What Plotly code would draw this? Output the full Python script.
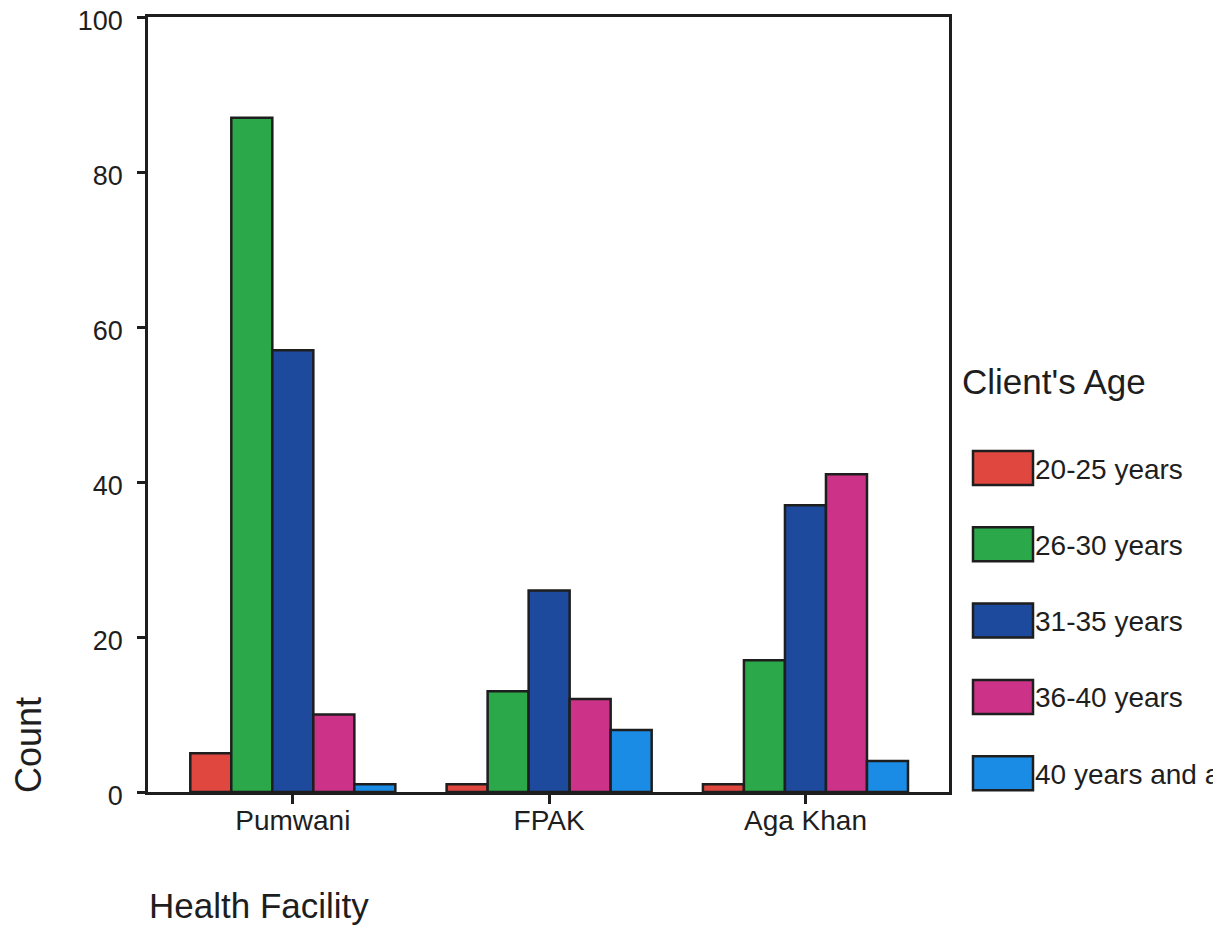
import plotly.graph_objects as go

facilities = ["Pumwani", "FPAK", "Aga Khan"]
age_groups = ["20-25 years", "26-30 years", "31-35 years", "36-40 years", "40 years and above"]
counts_20_25 = [5, 1, 1]
counts_26_30 = [87, 13, 17]
counts_31_35 = [57, 26, 37]
counts_36_40 = [10, 12, 41]
counts_40_up = [1, 8, 4]
series = [counts_20_25, counts_26_30, counts_31_35, counts_36_40, counts_40_up]
colors = ["#E0473F", "#2AA84A", "#1D4A9C", "#CC3388", "#1A8CE6"]
y_ticks = [0, 20, 40, 60, 80, 100]

W, H = 1221, 928
OFF = 8  # page body offset
ML = 148 - OFF
MT = 17 - OFF
PB = 792 - OFF
PR = 949 - OFF
MB = H - PB
MR = W - PR
PW, PH = PR - ML, PB - MT

def px(sx):
    return (sx - OFF - ML) / PW

def py(sy):
    return (PB - (sy - OFF)) / PH

FONT = "Liberation Sans, Arial, sans-serif"
INK = "#1e1e1e"

fig = go.Figure()
xs = list(range(len(facilities)))
for name, vals, col in zip(age_groups, series, colors):
    fig.add_trace(go.Bar(
        x=xs, y=vals, name=name,
        marker=dict(color=col, line=dict(color=INK, width=2.5)),
        showlegend=False,
    ))

shapes = []
annotations = []
annotations.append(dict(text="Client's Age", xref="paper", yref="paper",
                        x=px(960), y=py(381), xanchor="left", yanchor="middle",
                        showarrow=False, font=dict(family=FONT, size=35, color=INK)))
for i, (name, col) in enumerate(zip(age_groups, colors)):
    cy = 468 + i * 76.3
    shapes.append(dict(type="rect", xref="paper", yref="paper",
                       x0=px(973), x1=px(1033), y0=py(cy - 17), y1=py(cy + 17),
                       fillcolor=col, line=dict(color=INK, width=2.5)))
    annotations.append(dict(text=name, xref="paper", yref="paper",
                            x=px(1033), y=py(cy + 1), xanchor="left", yanchor="middle",
                            showarrow=False,
                            font=dict(family=FONT, size=28, color=INK)))
annotations.append(dict(text="Count", xref="paper", yref="paper",
                        x=px(28), y=py(745), xanchor="center", yanchor="middle",
                        textangle=-90, showarrow=False,
                        font=dict(family=FONT, size=36, color=INK)))
annotations.append(dict(text="Health Facility", xref="paper", yref="paper",
                        x=px(147), y=py(906), xanchor="left", yanchor="middle",
                        showarrow=False,
                        font=dict(family=FONT, size=35, color=INK)))

fig.update_layout(
    width=W, height=H,
    margin=dict(l=ML, r=MR, t=MT, b=MB, pad=0, autoexpand=False),
    paper_bgcolor="white", plot_bgcolor="white",
    barmode="group", bargap=0.2, bargroupgap=0,
    shapes=shapes, annotations=annotations,
    font=dict(family=FONT, color=INK),
)
fig.update_xaxes(
    range=[-0.565, 2.56], tickvals=xs, ticktext=facilities,
    showgrid=False, zeroline=False, automargin=False,
    showline=True, mirror=True, linecolor=INK, linewidth=2.5,
    ticks="outside", ticklen=9, tickwidth=2.5, tickcolor=INK,
    tickfont=dict(family=FONT, size=28, color=INK), ticklabelstandoff=-7,
    ticklabeloverflow="allow",
)
fig.update_yaxes(
    range=[0, 100], tickvals=y_ticks,
    showgrid=False, zeroline=False, automargin=False,
    showline=True, mirror=True, linecolor=INK, linewidth=2.5,
    ticks="outside", ticklen=8, tickwidth=2.5, tickcolor=INK,
    tickfont=dict(family=FONT, size=27, color=INK), ticklabelstandoff=9,
    ticklabelshift=4, ticklabeloverflow="allow",
)
fig.write_html("out.html")
